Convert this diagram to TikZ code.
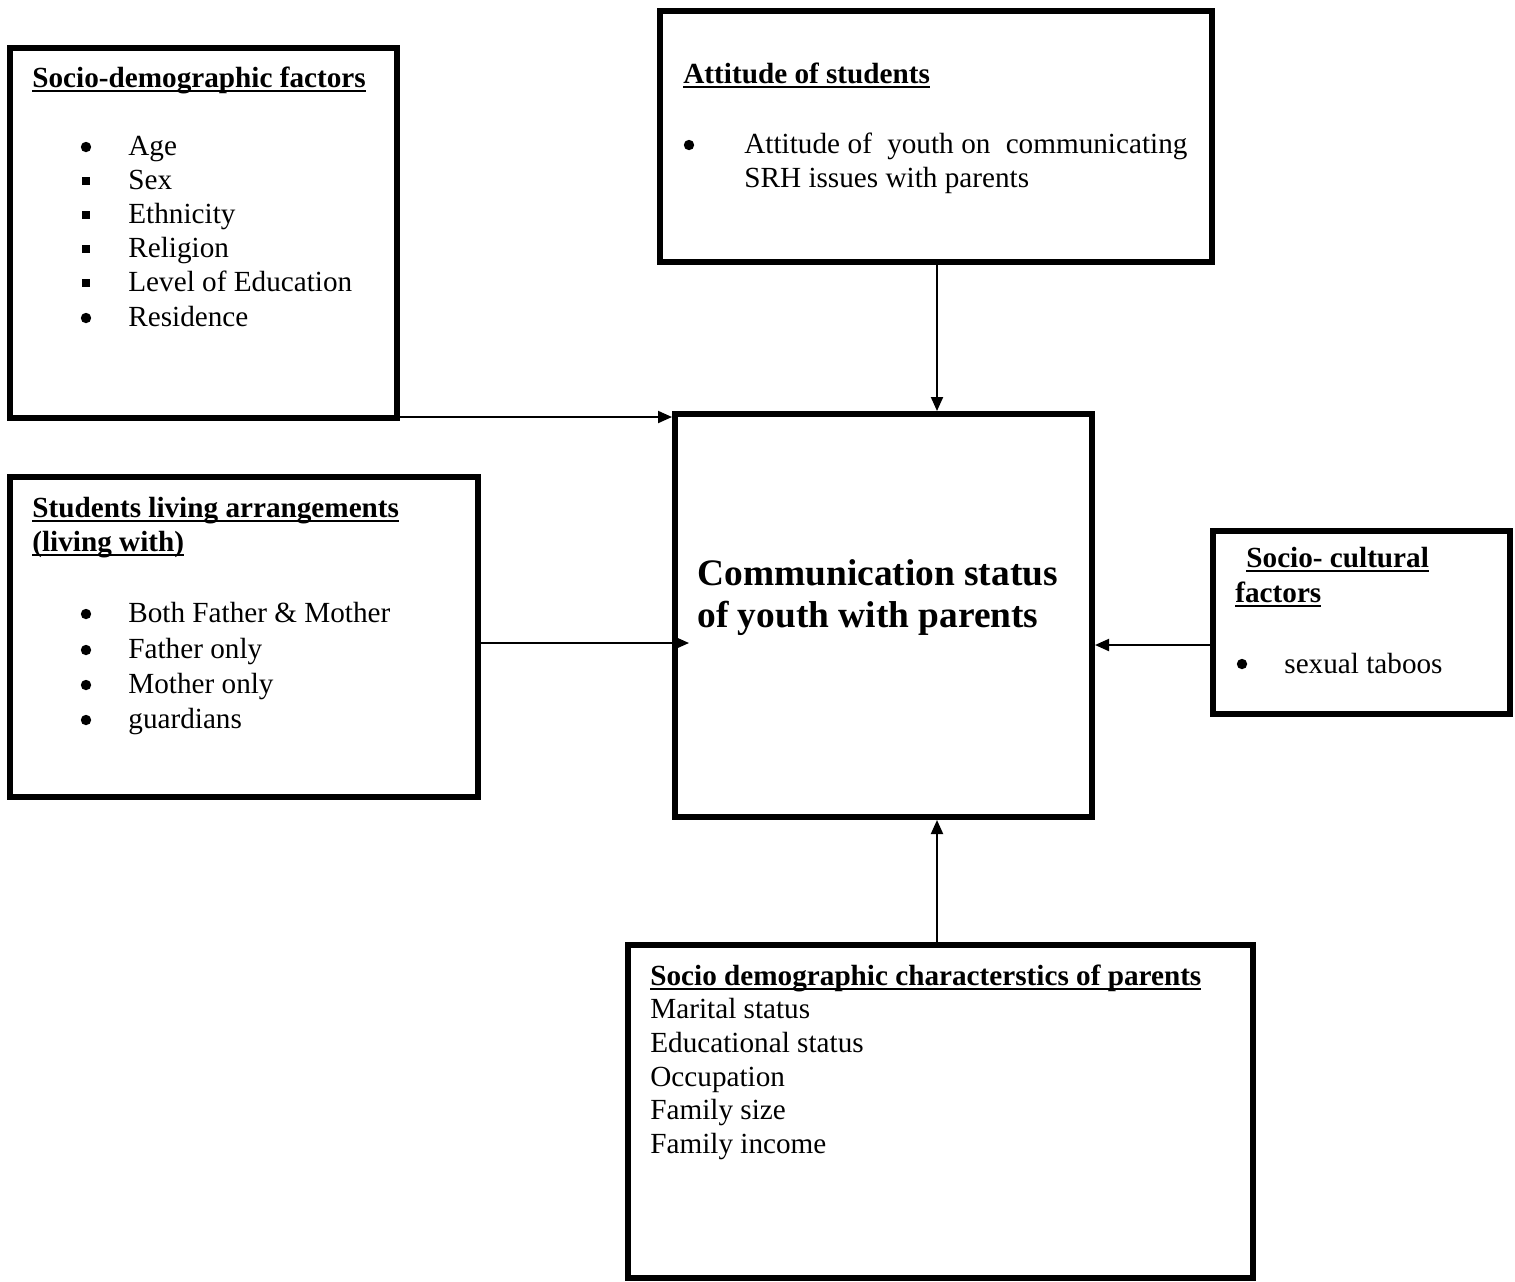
\documentclass[tikz,border=0pt]{standalone}
\usepackage{fontspec}
\setmainfont{Liberation Serif}
\usetikzlibrary{arrows.meta,calc}
\newcommand{\ulh}[1]{\setbox0\hbox{#1}\rlap{\rule[-2.6pt]{\wd0}{0.9pt}}\box0}
\newcommand{\fsn}{\fontsize{14.6pt}{17pt}\selectfont}
\newcommand{\fsb}{\fontsize{18.7pt}{21pt}\selectfont\bfseries}
\tikzset{
  box/.style={draw, line width=3pt, rectangle, inner sep=0pt},
  txt/.style={anchor=base west, inner sep=0pt, font=\fsn},
  hd/.style={anchor=base west, inner sep=0pt, font=\fsn\bfseries},
  big/.style={anchor=base west, inner sep=0pt, font=\fsb},
  conn/.style={line width=1pt, -{Triangle[length=7pt,width=6pt]}},
}
\newcommand{\rbul}[2]{\fill (#1,#2) circle (2.6pt);}
\newcommand{\sbul}[2]{\fill ($(#1,#2)+(-4,-4)$) rectangle ($(#1,#2)+(4,4)$);}
\begin{document}
\begin{tikzpicture}[x=0.5pt,y=-0.5pt]
\useasboundingbox (0,0) rectangle (1515,1281);
% boxes
\node[box, minimum width=387*0.5pt, minimum height=370*0.5pt] (A) at (203.5,233) {};
\node[box, minimum width=552*0.5pt, minimum height=251*0.5pt] (B) at (936,136.5) {};
\node[box, minimum width=417*0.5pt, minimum height=403*0.5pt] (C) at (883.5,615.5) {};
\node[box, minimum width=468*0.5pt, minimum height=320*0.5pt] (D) at (244,637) {};
\node[box, minimum width=297*0.5pt, minimum height=183*0.5pt] (E) at (1361.5,622.5) {};
\node[box, minimum width=625*0.5pt, minimum height=333*0.5pt] (F) at (940.5,1111.5) {};

% Box A text
\node[hd] (hA) at (32,87) {\ulh{Socio-demographic factors}};
\node[txt] (a1) at (128,155) {Age};
\node[txt] (a2) at (128,189) {Sex};
\node[txt] (a3) at (128,223) {Ethnicity};
\node[txt] (a4) at (128,257) {Religion};
\node[txt] (a5) at (128,291) {Level of Education};
\node[txt] (a6) at (128,326) {Residence};
\rbul{86}{147}
\sbul{86}{181}
\sbul{86}{215}
\sbul{86}{249}
\sbul{86}{283}
\rbul{86}{318}

% Box B text
\node[hd] (hB) at (683,83) {\ulh{Attitude of students}};
\node[txt] (b1) at (744,153) {\makebox[221.5pt][s]{Attitude of\ \ youth on\ \ communicating}};
\node[txt] (b2) at (744,187) {SRH issues with parents};
\rbul{689}{145}

% Box C text
\node[big] (c1) at (697,585) {Communication status};
\node[big] (c2) at (697,627) {of youth with parents};

% Box D text
\node[hd] (hD1) at (32,517) {\ulh{Students living arrangements}};
\node[hd] (hD2) at (32,551) {\ulh{(living with)}};
\node[txt] (d1) at (128,622) {Both Father \& Mother};
\node[txt] (d2) at (128,658) {Father only};
\node[txt] (d3) at (128,693) {Mother only};
\node[txt] (d4) at (128,728) {guardians};
\rbul{86}{614}
\rbul{86}{650}
\rbul{86}{685}
\rbul{86}{720}

% Box E text
\node[hd] (hE1) at (1246,567) {\ulh{Socio- cultural}};
\node[hd] (hE2) at (1235,602) {\ulh{factors}};
\node[txt] (e1) at (1284,673) {sexual taboos};
\rbul{1242}{664}

% Box F text
\node[hd] (hF) at (650,985) {\ulh{Socio demographic characterstics of parents}};
\node[txt] (f1) at (650,1018) {Marital status};
\node[txt] (f2) at (650,1052) {Educational status};
\node[txt] (f3) at (650,1086) {Occupation};
\node[txt] (f4) at (650,1119) {Family size};
\node[txt] (f5) at (650,1153) {Family income};

% connectors
\coordinate (yDC) at (0,643);
\coordinate (yEC) at (0,645);
\coordinate (xFC) at (937,0);
\draw[conn] ($(A.south east)+(-9,-4)$) -- ($(C.north west)+(0,6)$);
\draw[conn] (xFC |- B.south) -- (xFC |- C.north);
\draw[conn] (D.east |- yDC) -- ($(C.west |- yDC)+(17,0)$);
\draw[conn] (E.west |- yEC) -- (C.east |- yEC);
\draw[conn] (xFC |- F.north) -- (xFC |- C.south);
\end{tikzpicture}
\end{document}
